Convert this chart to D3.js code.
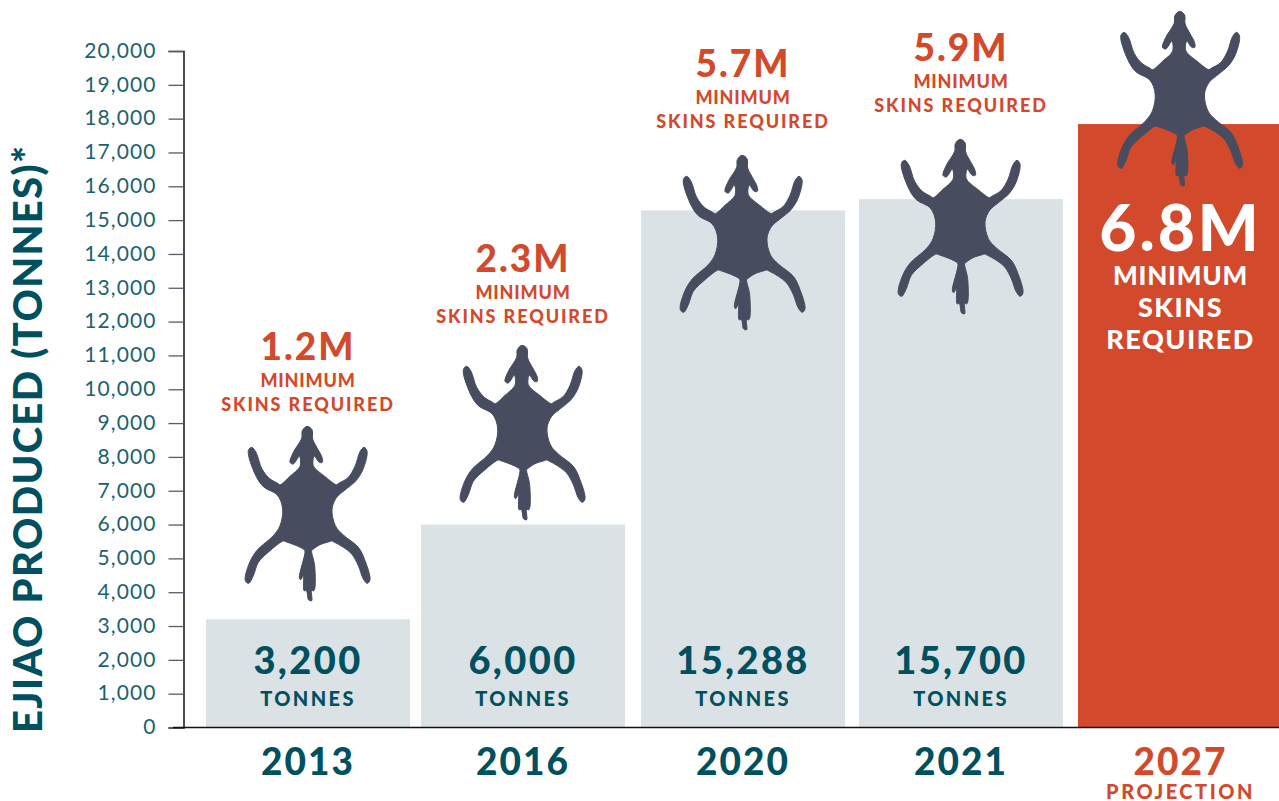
<!DOCTYPE html>
<html>
<head>
<meta charset="utf-8">
<script src="https://cdn.jsdelivr.net/npm/d3@7"></script>
<style>
  html, body { margin: 0; padding: 0; background: #fff; overflow: hidden; }
  svg { display: block; }
  text { font-family: Lato, sans-serif; }
</style>
</head>
<body>
<div class="container"></div>
<script>
const years = ['2013', '2016', '2020', '2021', '2027'];
const tonnes = [3200, 6000, 15288, 15620, 17840];
const tonneLabels = ['3,200', '6,000', '15,288', '15,700'];
const skinLabels = ['1.2M', '2.3M', '5.7M', '5.9M', '6.8M'];
const yTicks = d3.range(0, 20001, 1000);

const width = 1279;
const height = 801;
const teal = '#00505f';
const red = '#d2492b';
const slate = '#474c5e';
const barGrey = '#dbe2e6';

// where each bar sits, the spacing is not even in the original
const xCenter = d3.scaleOrdinal().domain(years).range([308, 523, 743, 961, 1179]);
const barWidth = d3.scaleOrdinal().domain(years).range([204, 204, 204, 204, 202]);
const yscale = d3.scaleLinear().domain([0, 20000]).range([727.5, 51]);

// y of the top of the skin icon and of the "x.xM" baseline
const skinTop = d3.scaleOrdinal().domain(years).range([427, 346, 156, 140, 12]);
const bigBase = d3.scaleOrdinal().domain(years).range([360, 272, 77, 61, 251]);

// skin outline, 3 units to a pixel
// the close pairs around the shoulders and hips keep those corners sharp
const skinOutline = [
    [231, 22], [246, 32], [248, 60], [262, 88], [276, 115], [277, 130], [268, 130], [253, 112], [250, 140],
    [284, 172], [314, 195], [320, 197], [326, 193], [354, 176], [375, 142], [390, 98], [402, 85], [411, 96],
    [401, 146], [379, 184], [345, 213], [320, 235], [306, 270], [316, 320], [340, 348], [385, 385], [405, 425],
    [420, 482], [412, 493], [400, 480], [385, 440], [365, 405], [340, 385], [312, 369], [305, 366], [298, 368],
    [270, 377], [249, 391], [245, 395], [254, 440], [252, 515], [245, 515], [245, 545], [236, 543], [229, 515],
    [222, 515], [220, 470], [212, 482], [208, 476], [225, 396], [221, 391], [200, 380], [167, 368], [160, 366],
    [153, 369], [120, 395], [85, 430], [70, 470], [56, 493], [46, 485], [55, 440], [80, 395], [130, 350],
    [150, 320], [158, 270], [142, 228], [100, 203], [75, 165], [55, 95], [65, 85], [78, 100], [95, 148],
    [118, 178], [143, 193], [149, 197], [155, 195], [180, 172], [210, 142], [208, 112], [190, 135], [180, 130],
    [190, 100], [215, 58], [217, 35],
];

const svg = d3.select('.container')
    .append('svg')
    .attr('width', width)
    .attr('height', height);

svg.selectAll('.bar')
    .data(years)
    .enter()
    .append('rect')
    .attr('class', 'bar')
    .attr('x', d => xCenter(d) - barWidth(d) / 2)
    .attr('width', d => barWidth(d))
    .attr('y', (d, i) => yscale(tonnes[i]))
    .attr('height', (d, i) => yscale(0) - yscale(tonnes[i]))
    .attr('fill', d => d === '2027' ? red : barGrey);

// y axis
const yAxis = svg.append('g')
    .attr('transform', 'translate(183.5,0)')
    .call(d3.axisLeft(yscale).tickValues(yTicks).tickSize(15).tickPadding(12).tickFormat(d3.format(',')));
yAxis.select('.domain').attr('stroke', '#111').attr('stroke-width', 1.5);
yAxis.selectAll('.tick line').attr('stroke', '#5a5b6e').attr('stroke-width', 1.3);
yAxis.selectAll('.tick text')
    .attr('fill', '#1c6270')
    .attr('dy', '0.3em')
    .style('font-size', '21px')
    .style('letter-spacing', '1.1px');

svg.append('line')
    .attr('x1', 173).attr('x2', width)
    .attr('y1', yscale(0)).attr('y2', yscale(0))
    .attr('stroke', '#111').attr('stroke-width', 1.5);

svg.append('text')
    .attr('transform', 'translate(42,733) rotate(-90)')
    .attr('fill', teal)
    .style('font-size', '40px')
    .style('font-weight', 900)
    .style('letter-spacing', '1.35px')
    .text('EJIAO PRODUCED (TONNES)*');

function label(x, y, txt, size, fill, spacing) {
    svg.append('text')
        .attr('x', x).attr('y', y)
        .attr('text-anchor', 'middle')
        .attr('fill', fill)
        .style('font-size', size + 'px')
        .style('font-weight', 900)
        .style('letter-spacing', spacing + 'px')
        .text(txt);
}

// skins
const outline = d3.line().curve(d3.curveCatmullRomClosed.alpha(0.5));
svg.selectAll('.skin')
    .data(years)
    .enter()
    .append('path')
    .attr('class', 'skin')
    .attr('d', outline(skinOutline))
    .attr('fill', slate)
    .attr('stroke', slate)
    .attr('stroke-width', 3)
    .attr('transform', d => `translate(${xCenter(d) - 78 + (d === '2027' ? 1.5 : 0)},${skinTop(d) - 8}) scale(${1 / 3})`);

// year labels, tonnes and skin counts
years.forEach((year, i) => {
    const x = xCenter(year);
    if (year !== '2027') {
        label(x, 775, year, 37, teal, 2);
        label(x, 674, tonneLabels[i], 38, teal, 2.4);
        label(x, 706, 'TONNES', 20, teal, 2.4);
        label(x, bigBase(year), skinLabels[i], 37, red, 2);
        label(x, bigBase(year) + 27, 'MINIMUM', 18, red, 0.8);
        label(x, bigBase(year) + 51, 'SKINS REQUIRED', 18, red, 1.9);
    } else {
        label(x + 1.5, 775, year, 37, red, 2);
        label(x + 1.5, 799, 'PROJECTION', 20, red, 2.5);
        label(x + 1.5, bigBase(year), skinLabels[i], 64, '#fff', 3);
        label(x + 1.5, bigBase(year) + 34, 'MINIMUM', 26, '#fff', 0.8);
        label(x + 1.5, bigBase(year) + 66, 'SKINS', 27, '#fff', 1.5);
        label(x + 1.5, bigBase(year) + 98, 'REQUIRED', 27, '#fff', 1.5);
    }
});
</script>
</body>
</html>
